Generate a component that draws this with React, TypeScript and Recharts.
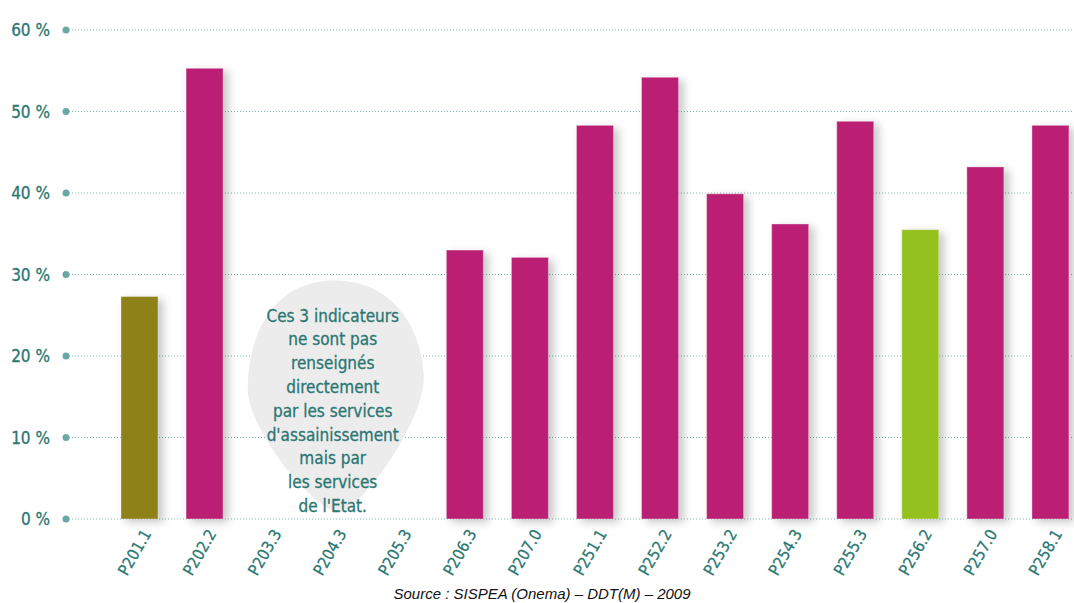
import React from "react";
import {
  BarChart,
  Bar,
  XAxis,
  YAxis,
  CartesianGrid,
  Cell,
  ReferenceArea
} from "recharts";

const indicators = [
  "P201.1", "P202.2", "P203.3", "P204.3", "P205.3", "P206.3", "P207.0",
  "P251.1", "P252.2", "P253.2", "P254.3", "P255.3", "P256.2", "P257.0", "P258.1"
];
const rates = [
  27.3, 55.3, null, null, null, 33.0, 32.1,
  48.3, 54.2, 39.9, 36.2, 48.8, 35.5, 43.2, 48.3
];
const yTicks = [0, 10, 20, 30, 40, 50, 60];
const noteLines = [
  "Ces 3 indicateurs",
  "ne sont pas",
  "renseignés",
  "directement",
  "par les services",
  "d'assainissement",
  "mais par",
  "les services",
  "de l'Etat."
];

const data = indicators.map((name, i) => ({ name, value: rates[i] }));

const TEAL = "#2b7772";
const FONT = "'DejaVu Sans Condensed', 'Liberation Sans', Arial, sans-serif";

function barColor(name: string) {
  if (name === "P201.1") return "#8e8118";
  if (name === "P256.2") return "#95c11f";
  return "#ba1f73";
}

function YTick(props: any) {
  const { x, y, payload } = props;
  return (
    <g>
      <text x={x - 8} y={y} dy={6} textAnchor="end" fill={TEAL} stroke={TEAL} strokeWidth={0.3} fontSize={17} fontFamily={FONT}>
        {payload.value} %
      </text>
      <circle cx={x + 8} cy={y} r={3.5} fill="#6aa8a5" />
    </g>
  );
}

function XTick(props: any) {
  const { x, y, payload } = props;
  return (
    <g transform={`translate(${x + 8},${y + 4})`}>
      <text transform="rotate(-60)" textAnchor="end" dy={5} fill={TEAL} stroke={TEAL} strokeWidth={0.25} fontSize={16} fontFamily={FONT}>
        {payload.value}
      </text>
    </g>
  );
}

function ShadowBar(props: any) {
  const { x, y, width, height, fill } = props;
  if (!height || height <= 0) return null;
  return (
    <rect
      x={x}
      y={y}
      width={width}
      height={height}
      fill={fill}
      stroke="rgba(255,255,255,0.35)"
      strokeWidth={1}
      style={{ filter: "drop-shadow(5px 3px 4px rgba(0,0,0,0.22))" }}
    />
  );
}

function NoteShape(props: any) {
  const { x, y, width, height } = props;
  const cx = x + width / 2;
  const top = y + 6;
  const bottom = y + height - 7;
  const left = cx - 87;
  const right = cx + 89;
  const mid = top + 95;
  const d = [
    `M ${cx} ${top}`,
    `C ${cx + 58} ${top} ${right - 2} ${mid - 48} ${right} ${mid}`,
    `C ${right + 2} ${mid + 45} ${cx + 25} ${bottom} ${cx + 4} ${bottom}`,
    `C ${cx - 18} ${bottom} ${left - 2} ${mid + 55} ${left} ${mid + 10}`,
    `C ${left + 2} ${mid - 48} ${cx - 58} ${top} ${cx} ${top} Z`
  ].join(" ");
  return (
    <g>
      <path d={d} fill="#ececec" />
      <text textAnchor="middle" fill={TEAL} stroke={TEAL} strokeWidth={0.3} fontSize={17} fontFamily={FONT}>
        {noteLines.map((line, i) => (
          <tspan key={i} x={cx - 2} y={top + 41 + i * 23.8}>
            {line}
          </tspan>
        ))}
      </text>
    </g>
  );
}

export default function App() {
  return (
    <div style={{ position: "absolute", left: 0, top: 0, width: 1074, height: 603, overflow: "hidden", background: "#fff" }}>
      <BarChart
        width={1074}
        height={603}
        data={data}
        margin={{ top: 30, right: 0, bottom: 0, left: 0 }}
      >
        <CartesianGrid vertical={false} stroke="#7ab5b2" strokeDasharray="1 2" />
        <XAxis
          dataKey="name"
          interval={0}
          axisLine={false}
          tickLine={false}
          height={84}
          padding={{ left: 41, right: -9 }}
          tick={<XTick />}
        />
        <YAxis
          width={66}
          domain={[0, 60]}
          ticks={yTicks}
          axisLine={false}
          tickLine={false}
          tick={<YTick />}
        />
        <ReferenceArea
          x1="P203.3"
          x2="P205.3"
          y1={0}
          y2={30}
          shape={<NoteShape />}
          ifOverflow="visible"
        />
        <Bar dataKey="value" barSize={37} isAnimationActive={false} shape={<ShadowBar />}>
          {data.map((d) => (
            <Cell key={d.name} fill={barColor(d.name)} />
          ))}
        </Bar>
      </BarChart>
      <div
        style={{
          position: "absolute",
          left: 0,
          width: 1084,
          top: 586,
          lineHeight: "16px",
          textAlign: "center",
          fontFamily: "'Liberation Sans', Arial, sans-serif",
          fontStyle: "italic",
          fontSize: 15,
          color: "#111"
        }}
      >
        Source : SISPEA (Onema) – DDT(M) – 2009
      </div>
    </div>
  );
}
